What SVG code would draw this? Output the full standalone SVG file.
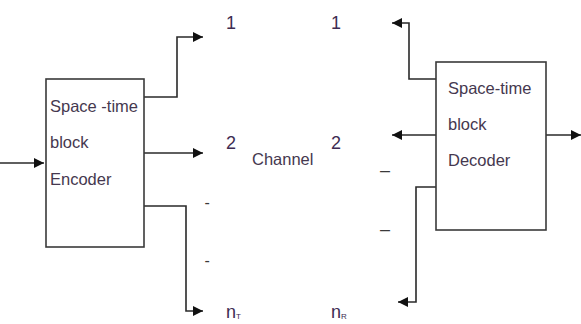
<svg xmlns="http://www.w3.org/2000/svg" width="581" height="324" viewBox="0 0 581 324">
<style>
.box{fill:#fff;stroke:#3a3a3a;stroke-width:1.6}
.ln{fill:none;stroke:#2a2a2a;stroke-width:1.6}
.t{font-family:"Liberation Sans",Arial,sans-serif;font-size:16.5px;fill:#45384f}
.d{font-family:"Liberation Sans",Arial,sans-serif;font-size:18px;fill:#3e2c52}
.s{font-family:"Liberation Sans",Arial,sans-serif;fill:#3a3a3a}
</style>
<defs>
<marker id="ah" viewBox="0 0 10 10" refX="10" refY="5" markerWidth="10" markerHeight="10" markerUnits="userSpaceOnUse" orient="auto">
<path d="M0,0 L10,5 L0,10 Z" fill="#111"/>
</marker>
</defs>
<rect width="581" height="324" fill="#fff"/>
<g id="connectors">
<path class="ln" d="M0,163 H44" marker-end="url(#ah)"/>
<path class="ln" d="M144,97 H177 V37 H203" marker-end="url(#ah)"/>
<path class="ln" d="M144,153 H203" marker-end="url(#ah)"/>
<path class="ln" d="M144,206 H186 V311 H203" marker-end="url(#ah)"/>
<path class="ln" d="M436,79 H409 V23 H392" marker-end="url(#ah)"/>
<path class="ln" d="M436,135 H392" marker-end="url(#ah)"/>
<path class="ln" d="M546,135 H581" marker-end="url(#ah)"/>
<path class="ln" d="M436,187 H416 V302 H398" marker-end="url(#ah)"/>
</g>
<g id="encoder">
<rect class="box" x="46" y="79" width="98" height="168"/>
<text class="t" x="50" y="112">Space -time</text>
<text class="t" x="50" y="148">block</text>
<text class="t" x="50" y="185">Encoder</text>
</g>
<g id="decoder">
<rect class="box" x="436" y="62" width="110" height="168"/>
<text class="t" x="448" y="94">Space-time</text>
<text class="t" x="448" y="130">block</text>
<text class="t" x="448" y="166">Decoder</text>
</g>
<g id="channel">
<text class="t" x="252" y="165" font-size="17">Channel</text>
<text class="d" x="226" y="29">1</text>
<text class="d" x="226" y="149">2</text>
<text class="d" x="331" y="29">1</text>
<text class="d" x="331" y="149">2</text>
<text class="s" x="204.5" y="208" font-size="16">-</text>
<text class="s" x="204.5" y="266" font-size="16">-</text>
<text class="s" x="380" y="176" font-size="18">–</text>
<text class="s" x="380" y="235" font-size="18">–</text>
<text class="d" x="226" y="318" font-size="14">n<tspan font-size="8" dy="1">T</tspan></text>
<text class="d" x="331" y="318" font-size="14">n<tspan font-size="8" dy="1">R</tspan></text>
</g>
</svg>
